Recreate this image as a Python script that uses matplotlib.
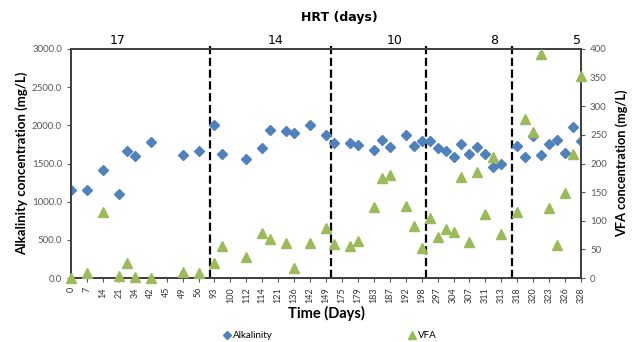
import numpy as np
import matplotlib.pyplot as plt
from matplotlib.ticker import FormatStrFormatter

plt.rcParams['font.family'] = ['Lato', 'DejaVu Sans']

nan = np.nan
# jours (categories) : une etiquette sur deux est affichee
days = [0, 3, 7, 10, 14, 17, 21, 28, 34, 38, 42, 44, 45, 47, 49, 52, 56, 86,
        93, 97, 100, 107, 112, 113, 114, 118, 121, 128, 136, 139, 142, 146,
        149, 155, 175, 177, 179, 181, 183, 185, 187, 190, 192, 195, 198, 200,
        297, 300, 304, 306, 307, 309, 311, 312, 313, 315, 318, 319, 320, 321,
        323, 325, 326, 327, 328]

alkalinity = [1150, nan, 1150, nan, 1420, nan, 1100, 1670, 1600, nan, 1780, nan,
              nan, nan, 1610, nan, 1660, nan, 2000, 1620, nan, nan, 1560, nan,
              1700, 1940, nan, 1920, 1900, nan, 2000, nan, 1870, 1770, nan, 1770,
              1740, nan, 1680, 1810, 1720, nan, 1870, 1730, 1800, 1790, 1700, 1670,
              1590, 1750, 1630, 1720, 1620, 1460, 1490, nan, 1730, 1590, 1860, 1610,
              1750, 1810, 1640, 1980, 1800]

vfa = [0, nan, 8, nan, 115, nan, 3, 26, 1, nan, 0, nan,
       nan, nan, 10, nan, 8, nan, 26, 56, nan, nan, 37, nan,
       78, 68, nan, 61, 17, nan, 62, nan, 87, 60, nan, 56,
       64, nan, 124, 174, 180, nan, 126, 90, 52, 105, 71, 85,
       80, 177, 63, 186, 112, 212, 77, nan, 116, 277, 255, 392,
       123, 58, 148, 217, 352]

# temps de sejour hydraulique (HRT) et limites entre phases (en index de categorie)
hrt_labels = ['17', '14', '10', '8', '5']
hrt_label_pos = [5.9, 25.7, 40.6, 53.1, 63.5]
hrt_bounds = [17.4, 32.6, 44.6, 55.4]

x = np.arange(len(days))
blue = '#4F81BD'
green = '#9BBB59'
grey = '#595959'

fig = plt.figure(figsize=(6.33, 3.42), dpi=100)
ax = fig.add_axes([71/633, 1 - 278/342, 510/633, 229/342])
ax2 = ax.twinx()

ax.plot(x, alkalinity, 'D', color=blue, markersize=5.5, label='Alkalinity', zorder=3)
ax2.plot(x, vfa, '^', color=green, markersize=7.5, label='VFA', clip_on=False, zorder=3)

for b in hrt_bounds:
    ax.plot([b, b], [0, 3080], '--', color='black', lw=1.6, clip_on=False, zorder=2)

ax.set_xlim(0, len(days) - 1)
ax.set_ylim(0, 3000)
ax2.set_ylim(0, 400)
ax.set_yticks(np.arange(0, 3001, 500))
ax.yaxis.set_major_formatter(FormatStrFormatter('%.1f'))
ax2.set_yticks(np.arange(0, 401, 50))

ax.set_xticks(x[::2])
ax.set_xticklabels([str(d) for d in days[::2]], rotation=90)
ax.set_xticks(x[1::2], minor=True)

for a in (ax, ax2):
    for s in a.spines.values():
        s.set_color('#404040')
        s.set_linewidth(1.3)
ax.tick_params(axis='x', labelsize=6.5, colors=grey, length=3, width=0.8)
ax.tick_params(axis='x', which='minor', length=0)
ax.tick_params(axis='y', labelsize=7, colors=grey, length=3)
ax2.tick_params(axis='y', labelsize=7, colors=grey, length=3)
ax.tick_params(axis='x', labelcolor='#333333')

ax.set_ylabel('Alkalinity concentration (mg/L)', fontsize=9.5, fontweight='bold', labelpad=3)
ax2.set_ylabel('VFA concentration (mg/L)', fontsize=9.2, fontweight='bold', labelpad=6)
ax.set_xlabel('Time (Days)', fontsize=10.5, fontweight='bold', labelpad=2)

for lab, p in zip(hrt_labels, hrt_label_pos):
    ax.text(p, 3030, lab, fontsize=9, ha='center', va='bottom',
            family=['DejaVu Sans'])
fig.text(339/633, 1 - 18/342, 'HRT (days)', fontsize=9, fontweight='bold',
         ha='center', va='center', family=['DejaVu Sans'])

h1, l1 = ax.get_legend_handles_labels()
h2, l2 = ax2.get_legend_handles_labels()
fig.legend(h1 + h2, l1 + l2, loc='center', bbox_to_anchor=(330/633, 1 - 336/342),
           ncol=2, frameon=False, fontsize=7, handletextpad=0.2, columnspacing=14,
           handlelength=0.8, markerscale=0.7)

fig.savefig('out.png', dpi=100)
